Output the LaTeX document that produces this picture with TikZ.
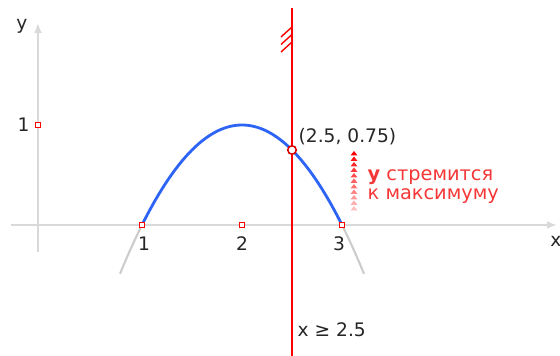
\documentclass[tikz,border=0pt]{standalone}
\usepackage{fontspec}
\setmainfont{DejaVu Sans}
\usetikzlibrary{arrows.meta,positioning,calc}

\definecolor{curveblue}{RGB}{45,100,245}
\definecolor{hintred}{RGB}{245,55,55}

\begin{document}
\begin{tikzpicture}[>={Latex[length=1mm,width=0.8mm]},
  axis/.style={draw=black!15,line width=0.6pt},
  ghost/.style={draw=black!20,line width=0.6pt},
  curve/.style={draw=curveblue,line width=0.8pt},
  limit/.style={draw=red,line width=0.55pt},
  ptmark/.style={rectangle,draw=red,fill=white,line width=0.4pt,inner sep=0pt,minimum size=0.5mm},
  hitpt/.style={circle,draw=red!85!black,fill=white,line width=0.45pt,inner sep=0pt,minimum size=0.85mm},
  lbl/.style={font=\fontsize{5.3}{6}\selectfont,text=black!85,inner sep=0pt},
  hint/.style={font=\fontsize{5.5}{6}\selectfont,text=hintred,inner sep=0pt}]
  \useasboundingbox (-0.42,-1.31) rectangle (5.18,2.25);
  % Axes
  \coordinate (xstart) at (-0.31,0);
  \coordinate (xend) at (5.15,0);
  \coordinate (ystart) at (-0.04,-0.27);
  \coordinate (yend) at (-0.04,2.02);
  \draw[axis,->] (xstart) -- (xend);
  \draw[axis,->] (ystart) -- (yend);
  \node[lbl] (xlab) at (5.14,-0.16) {x};
  \node[lbl] (ylab) at (-0.20,1.99) {y};
  % Parabola y = -(x-1)(x-3), outside part in gray
  \draw[ghost] plot[domain=0.78:1,samples=10] (\x,{-(\x-1)*(\x-3)});
  \draw[ghost] plot[domain=3:3.22,samples=10] (\x,{-(\x-1)*(\x-3)});
  \draw[curve] plot[domain=1:3,samples=50] (\x,{-(\x-1)*(\x-3)});
  % Constraint x >= 2.5
  \coordinate (ltop) at (2.5,2.17);
  \coordinate (lbot) at (2.5,-1.31);
  \draw[limit] (ltop) -- (lbot);
  \foreach \h in {1.98,1.905,1.83}
    \draw[draw=red,line width=0.4pt] (2.5,\h) -- ++(-0.11,-0.10);
  \node[lbl,anchor=west] (cond) at (2.55,-1.05) {x ≥ 2.5};
  % Marks on the axes
  \node[ptmark] (m1) at (1,0) {};
  \node[ptmark] (m2) at (2,0) {};
  \node[ptmark] (m3) at (3,0) {};
  \node[ptmark] (my) at (-0.04,1) {};
  \node[lbl] (t1) at (1.02,-0.19) {1};
  \node[lbl] (t2) at (2,-0.19) {2};
  \node[lbl] (t3) at (2.97,-0.19) {3};
  \node[lbl] (ty) at (-0.185,1) {1};
  % Point on the boundary
  \node[hitpt] (p) at (2.5,0.75) {};
  \node[lbl,anchor=west] (plab) at (2.56,0.885) {(2.5, 0.75)};
  % Fading arrow stack
  \foreach \i in {0,...,10}{
    \pgfmathsetmacro\shade{100-7.5*\i}
    \fill[red!\shade!white] (3.085,0.695-0.055*\i) -- (3.155,0.695-0.055*\i)
      -- (3.12,0.74-0.055*\i) -- cycle;
  }
  \node[hint,anchor=base west] (h1) at (3.25,0.44) {\textbf{y} стремится};
  \node[hint,anchor=base west] (h2) at (3.25,0.25) {к максимуму};
\end{tikzpicture}
\end{document}
